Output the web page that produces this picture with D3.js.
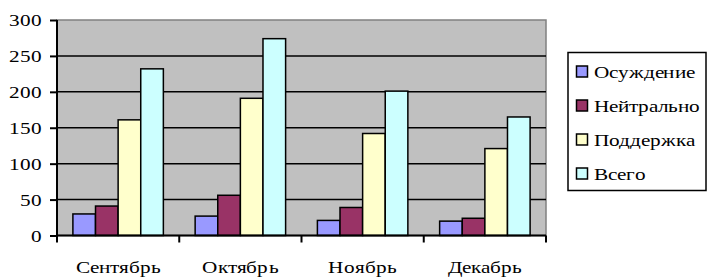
<!DOCTYPE html>
<html><head><meta charset="utf-8">
<script src="https://cdn.jsdelivr.net/npm/d3@7"></script>
<style>
@font-face{font-family:"RefSerif";src:local("Liberation Serif"),local("LiberationSerif"),local("Liberation Serif Regular"),local("LiberationSerif-Regular"),local("Times New Roman"),local("Tinos");}
body{margin:0;background:#fff;}
</style>
</head><body>
<svg id="c" width="707" height="278"></svg>
<script>
const categories = ["Сентябрь", "Октябрь", "Ноябрь", "Декабрь"];
const seriesNames = ["Осуждение", "Нейтрально", "Поддержка", "Всего"];
const osuzhdenie = [30, 27, 21, 20];
const neitralno = [41, 56, 39, 24];
const podderzhka = [161, 191, 142, 121];
const vsego = [232, 274, 201, 165];
const yTicks = [0, 50, 100, 150, 200, 250, 300];
const colors = ["#9999FF", "#993366", "#FFFFCC", "#CCFFFF"];
const seriesValues = [osuzhdenie, neitralno, podderzhka, vsego];
const FONT = '"RefSerif","Liberation Serif",serif';
const FS = 17;

const svg = d3.select("#c");
const L = 57, R = 546, T = 20, B = 235.5;
const x0 = d3.scaleBand().domain(categories).range([L, R]).paddingInner(0.26).paddingOuter(0.13);
const x1 = d3.scaleBand().domain(seriesNames).range([0, x0.bandwidth()]);
const y = d3.scaleLinear().domain([0, 300]).range([B, T]);

function draw() {
svg.selectAll("*").remove();
const probe = svg.append("text").style("font-family", FONT).attr("font-size", FS).text("Сентябрь");
const sx = 86 / probe.node().getComputedTextLength();
probe.remove();

function label(sel, x, yy, txt, anchor) {
  return sel.append("text")
    .attr("transform", `translate(${x},${yy}) scale(${sx},1)`)
    .attr("text-anchor", anchor).attr("font-size", FS)
    .style("font-family", FONT).attr("fill", "#000").text(txt);
}

svg.append("rect").attr("x", L).attr("y", T).attr("width", R - L).attr("height", B - T)
  .attr("fill", "#C0C0C0").attr("stroke", "#808080").attr("stroke-width", 1.5);

svg.append("g").selectAll("line").data(yTicks.filter(d => d > 0 && d < 300)).join("line")
  .attr("x1", L).attr("x2", R).attr("y1", d => y(d)).attr("y2", d => y(d))
  .attr("stroke", "#000").attr("stroke-width", 1.5);

const g = svg.append("g");
categories.forEach((c, ci) => {
  seriesNames.forEach((s, si) => {
    const v = seriesValues[si][ci];
    g.append("rect")
      .attr("x", x0(c) + x1(s)).attr("y", y(v))
      .attr("width", x1.bandwidth()).attr("height", y(0) - y(v))
      .attr("fill", colors[si]).attr("stroke", "#000").attr("stroke-width", 1.5);
  });
});

const ya = svg.append("g").attr("transform", `translate(${L},0)`)
  .call(d3.axisLeft(y).tickValues(yTicks).tickSize(7).tickFormat(""));
ya.select(".domain").attr("stroke", "#000").attr("stroke-width", 2).attr("d", `M0,${T}V${B}`);
ya.selectAll(".tick line").attr("stroke", "#000").attr("stroke-width", 2);
const yl = svg.append("g");
yTicks.forEach(t => label(yl, 42, y(t) + 6, String(t), "end"));

const xa = svg.append("g").attr("transform", `translate(0,${B})`);
xa.append("line").attr("x1", L).attr("x2", R).attr("stroke", "#000").attr("stroke-width", 2);
const bounds = [L].concat(categories.map(c => x0(c) + x0.bandwidth() + x0.step() * x0.paddingInner() / 2));
bounds[bounds.length - 1] = R;
xa.selectAll("line.t").data(bounds).join("line").attr("class", "t")
  .attr("x1", d => d).attr("x2", d => d).attr("y1", 0).attr("y2", 7)
  .attr("stroke", "#000").attr("stroke-width", 2);
categories.forEach(c => label(xa, x0(c) + x0.bandwidth() / 2, 37, c, "middle"));

const lg = svg.append("g");
lg.append("rect").attr("x", 568).attr("y", 52.5).attr("width", 138).attr("height", 138)
  .attr("fill", "#fff").attr("stroke", "#000").attr("stroke-width", 1.5);
seriesNames.forEach((s, i) => {
  const cy = 72 + i * 34;
  lg.append("rect").attr("x", 576.5).attr("y", cy - 6).attr("width", 11).attr("height", 11)
    .attr("fill", colors[i]).attr("stroke", "#000").attr("stroke-width", 1.5);
  label(lg, 594, cy + 6, s, "start");
});
}
draw();
if (document.fonts && document.fonts.ready) document.fonts.ready.then(draw);
</script>
</body></html>
